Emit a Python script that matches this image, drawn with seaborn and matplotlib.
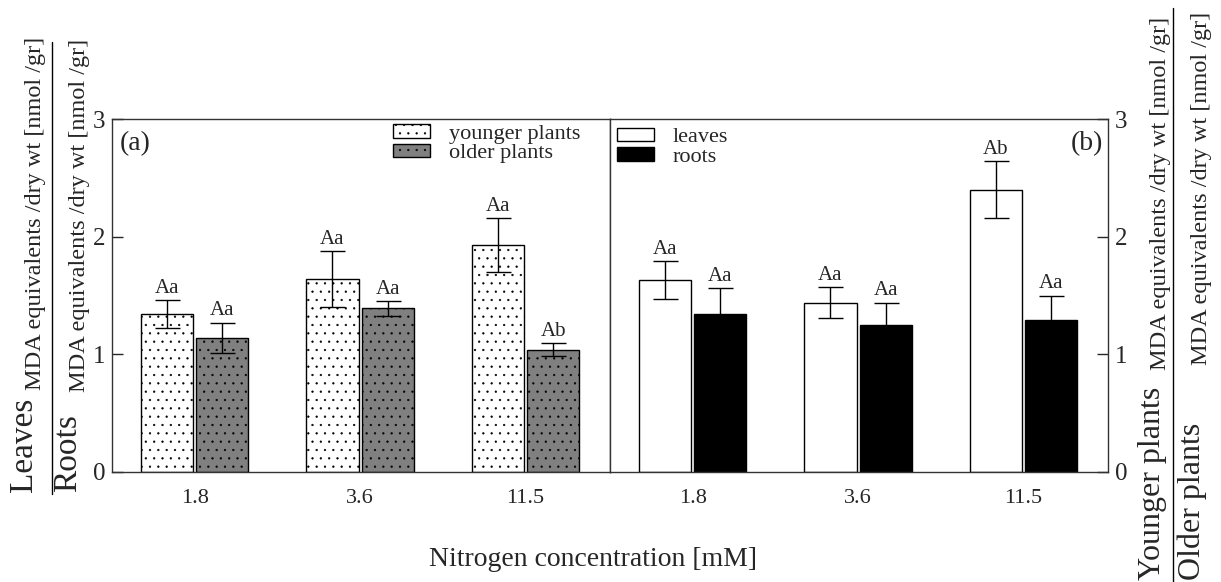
import seaborn as sns
import matplotlib.pyplot as plt
import pandas as pd
from matplotlib.patches import Patch
from matplotlib.lines import Line2D

sns.set_style('ticks')
plt.rcParams['font.family'] = ['Liberation Serif', 'DejaVu Serif']
plt.rcParams['hatch.linewidth'] = 0.4

conc = ['1.8', '3.6', '11.5']

# panel (a): leaves/roots ratio for younger and older plants
younger = [1.34, 1.64, 1.93]
younger_se = [0.12, 0.24, 0.23]
younger_letters = ['Aa', 'Aa', 'Aa']
older = [1.14, 1.39, 1.04]
older_se = [0.13, 0.06, 0.055]
older_letters = ['Aa', 'Aa', 'Ab']

# panel (b): younger/older ratio for leaves and roots
leaves = [1.63, 1.44, 2.40]
leaves_se = [0.16, 0.13, 0.24]
leaves_letters = ['Aa', 'Aa', 'Ab']
roots = [1.34, 1.25, 1.29]
roots_se = [0.22, 0.19, 0.21]
roots_letters = ['Aa', 'Aa', 'Aa']

W, H = 1221, 582
fig = plt.figure(figsize=(W / 100, H / 100), dpi=100)
ax1 = fig.add_axes([112 / W, 1 - 472 / H, 498 / W, 353 / H])
ax2 = fig.add_axes([610 / W, 1 - 472 / H, 498 / W, 353 / H])


def panel(ax, names, vals, errs, letters, colors, hatch):
    df = pd.DataFrame({
        'conc': conc * 2,
        'value': vals[0] + vals[1],
        'group': [names[0]] * 3 + [names[1]] * 3,
    })
    sns.barplot(data=df, x='conc', y='value', hue='group', order=conc,
                hue_order=names, palette=dict(zip(names, colors)),
                width=0.67, gap=0.06, edgecolor='black', linewidth=1,
                errorbar=None, legend=False, ax=ax)
    for cont, e, lab in zip(ax.containers, errs, letters):
        xs = [b.get_x() + b.get_width() / 2 for b in cont]
        ys = [b.get_height() for b in cont]
        if hatch:
            for b in cont:
                b.set_hatch(hatch)
        ax.errorbar(xs, ys, yerr=e, fmt='none', ecolor='black',
                    elinewidth=1, capsize=9, capthick=1)
        for x, y, ee, t in zip(xs, ys, e, lab):
            ax.annotate(t, (x, y + ee), xytext=(0, 1.5),
                        textcoords='offset points', ha='center',
                        va='bottom', fontsize=15)
    ax.set_ylim(0, 3)
    ax.set_xlim(-0.5, 2.51)
    ax.set_yticks([0, 1, 2, 3])
    ax.set_xlabel('')
    ax.set_ylabel('')
    ax.tick_params(axis='x', length=0, labelsize=16, pad=12)
    ax.tick_params(axis='y', direction='in', length=8, width=1,
                   labelsize=18, pad=5)
    for s in ax.spines.values():
        s.set_color('#333333')
        s.set_linewidth(1)
    handles = [Patch(facecolor=c, edgecolor='black', hatch=hatch, label=n)
               for c, n in zip(colors, names)]
    return handles


h1 = panel(ax1, ['younger plants', 'older plants'], [younger, older],
           [younger_se, older_se], [younger_letters, older_letters],
           ['white', '#808080'], '..')
h2 = panel(ax2, ['leaves', 'roots'], [leaves, roots],
           [leaves_se, roots_se], [leaves_letters, roots_letters],
           ['white', 'black'], None)

ax2.yaxis.tick_right()

leg_kw = dict(frameon=False, fontsize=16, handlelength=1.67, handleheight=0.55,
              labelspacing=0.0, handletextpad=0.85, borderpad=0,
              borderaxespad=0, loc='upper left')
ax1.legend(handles=h1, bbox_to_anchor=(0.564, 0.985), **leg_kw)
ax2.legend(handles=h2, bbox_to_anchor=(0.014, 0.975), **leg_kw)

ax1.text(0.015, 0.965, '(a)', transform=ax1.transAxes, fontsize=20, va='top')
ax2.text(0.99, 0.965, '(b)', transform=ax2.transAxes, fontsize=20,
         va='top', ha='right')

fig.text(593 / W, 1 - 560 / H, 'Nitrogen concentration [mM]', fontsize=20,
         ha='center', va='center')

unit = 'MDA equivalents /dry wt [nmol /gr]'
# left axis label: Leaves over Roots
fig.text(39 / W, 1 - 492 / H, 'Leaves', rotation=90, fontsize=24,
         ha='right', va='bottom')
fig.text(46 / W, 1 - 390 / H, unit, rotation=90, fontsize=17.5,
         ha='right', va='bottom')
fig.add_artist(Line2D([52 / W, 52 / W], [1 - 42 / H, 1 - 494 / H],
                      color='black', lw=1))
fig.text(83 / W, 1 - 492 / H, 'Roots', rotation=90, fontsize=24,
         ha='right', va='bottom')
fig.text(90 / W, 1 - 392 / H, unit, rotation=90, fontsize=17.5,
         ha='right', va='bottom')

# right axis label: Younger plants over Older plants
fig.text(1167 / W, 1 - 580 / H, 'Younger plants', rotation=90, fontsize=23,
         ha='right', va='bottom')
fig.text(1171 / W, 1 - 370 / H, unit, rotation=90, fontsize=17.5,
         ha='right', va='bottom')
fig.add_artist(Line2D([1173 / W, 1173 / W], [1 - 8 / H, 0],
                      color='black', lw=1))
fig.text(1207 / W, 1 - 580 / H, 'Older plants', rotation=90, fontsize=23,
         ha='right', va='bottom')
fig.text(1212 / W, 1 - 365 / H, unit, rotation=90, fontsize=17.5,
         ha='right', va='bottom')

fig.savefig('out.png', dpi=100)
